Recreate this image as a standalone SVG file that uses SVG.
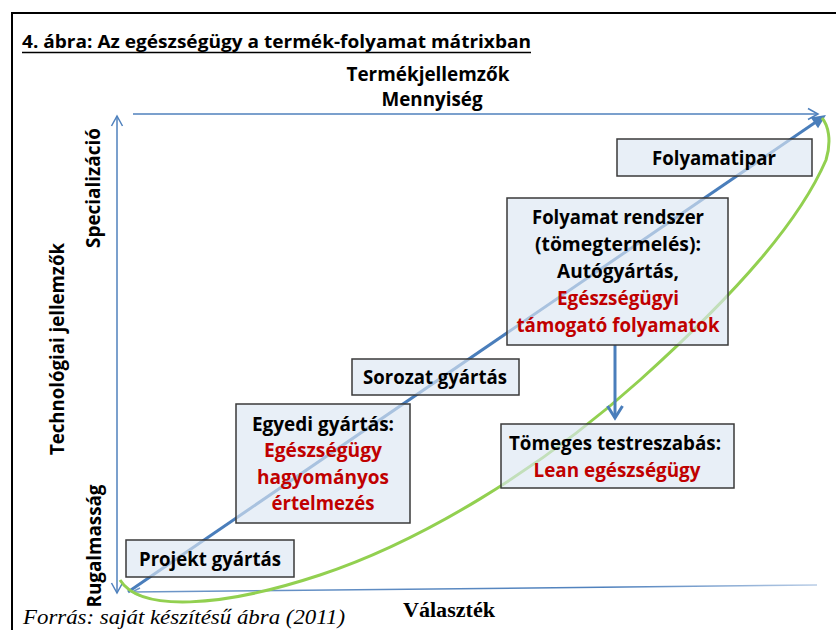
<svg xmlns="http://www.w3.org/2000/svg" width="836" height="630" viewBox="0 0 836 630">
  <style>
    .sans { font-family: "Open Sans", "Noto Sans", "Liberation Sans", sans-serif; font-weight: bold; }
    .lbl { font-size: 19px; fill: #000; text-anchor: middle; }
    .red { fill: #c00000; }
    .box { fill: #dce6f2; fill-opacity: 0.65; stroke: #3a3a3a; stroke-width: 1.5; }
    .axis { fill: none; stroke: #4f81bd; stroke-width: 1.5; }
  </style>
  <defs>
    <marker id="openHead" markerUnits="userSpaceOnUse" viewBox="-12 -7 14 14" refX="0" refY="0" markerWidth="14" markerHeight="14" orient="auto-start-reverse">
      <path d="M-10,-5.5 L0,0 L-10,5.5" fill="none" stroke="#4f81bd" stroke-width="1.5"/>
    </marker>
    <marker id="solidHead" markerUnits="userSpaceOnUse" viewBox="-10 -8 18 16" refX="0" refY="0" markerWidth="18" markerHeight="16" orient="auto">
      <path d="M-8,-6.5 L6,0 L-8,6.5 Z" fill="#4a7ebb"/>
    </marker>
    <marker id="downHead" markerUnits="userSpaceOnUse" viewBox="-15 -10 18 20" refX="0" refY="0" markerWidth="18" markerHeight="20" orient="auto">
      <path d="M-12,-7.5 L0,0 L-12,7.5" fill="none" stroke="#4a7ebb" stroke-width="3"/>
    </marker>
    <linearGradient id="baseGrad" x1="132" y1="0" x2="817" y2="0" gradientUnits="userSpaceOnUse">
      <stop offset="0" stop-color="#6f97c8"/>
      <stop offset="0.7" stop-color="#4f81bd"/>
      <stop offset="1" stop-color="#b9cde6"/>
    </linearGradient>
  </defs>

  <rect x="0" y="0" width="836" height="630" fill="#fff"/>

  <!-- page frame -->
  <path d="M836,13 L12,13 L12,630" fill="none" stroke="#000" stroke-width="2"/>

  <!-- heading -->
  <text class="sans" x="22" y="48" font-size="17" textLength="509" lengthAdjust="spacingAndGlyphs">4. ábra: Az egészségügy a termék-folyamat mátrixban</text>
  <line x1="22" y1="52.5" x2="531" y2="52.5" stroke="#000" stroke-width="1.5"/>

  <!-- axis titles -->
  <text class="sans lbl" x="428" y="81" textLength="163" lengthAdjust="spacingAndGlyphs">Termékjellemzők</text>
  <text class="sans lbl" x="432" y="106" textLength="101" lengthAdjust="spacingAndGlyphs">Mennyiség</text>
  <text class="sans lbl" transform="translate(100,188) rotate(-90)" textLength="120" lengthAdjust="spacingAndGlyphs">Specializáció</text>
  <text class="sans lbl" transform="translate(64,349) rotate(-90)" textLength="212" lengthAdjust="spacingAndGlyphs">Technológiai jellemzők</text>
  <text class="sans lbl" transform="translate(101,546) rotate(-90)" textLength="123" lengthAdjust="spacingAndGlyphs">Rugalmasság</text>
  <text x="403" y="617" font-family="'Liberation Serif', 'Times New Roman', serif" font-weight="bold" font-size="20" textLength="92" lengthAdjust="spacingAndGlyphs">Választék</text>
  <text x="23" y="624" font-family="'Liberation Serif', 'Times New Roman', serif" font-style="italic" font-size="20" textLength="322" lengthAdjust="spacingAndGlyphs">Forrás: saját készítésű ábra (2011)</text>

  <!-- connectors -->
  <g id="connectors">
    <line class="axis" x1="133" y1="114" x2="818" y2="114" marker-end="url(#openHead)"/>
    <line class="axis" x1="117" y1="116" x2="117" y2="593" marker-start="url(#openHead)" marker-end="url(#openHead)"/>
    <line x1="817" y1="585" x2="132" y2="592" fill="none" stroke="url(#baseGrad)" stroke-width="1.5"/>
    <path d="M140,588 L132,592 L140,596" fill="none" stroke="#6f97c8" stroke-width="1.5"/>
    <line x1="128" y1="592" x2="821" y2="118.4" stroke="#4a7ebb" stroke-width="3" marker-end="url(#solidHead)"/>
    <path d="M120,580 C140,612 220,608 320,575 C420,542 540,470 640,380 C740,290 800,220 826,160 C832,140 828,125 822,118" fill="none" stroke="#92d050" stroke-width="3"/>
    <line x1="615" y1="345" x2="615" y2="418" stroke="#4a7ebb" stroke-width="3" marker-end="url(#downHead)"/>
  </g>

  <!-- nodes -->
  <g id="projekt">
    <rect class="box" x="126" y="540" width="168" height="37"/>
    <text class="sans lbl" x="210" y="566" textLength="142" lengthAdjust="spacingAndGlyphs">Projekt gyártás</text>
  </g>

  <g id="egyedi">
    <rect class="box" x="236" y="404" width="174" height="119"/>
    <text class="sans lbl" x="323" y="431" textLength="142" lengthAdjust="spacingAndGlyphs">Egyedi gyártás:</text>
    <text class="sans lbl red" x="323" y="457" textLength="118" lengthAdjust="spacingAndGlyphs">Egészségügy</text>
    <text class="sans lbl red" x="323" y="484" textLength="132" lengthAdjust="spacingAndGlyphs">hagyományos</text>
    <text class="sans lbl red" x="323" y="510" textLength="103" lengthAdjust="spacingAndGlyphs">értelmezés</text>
  </g>

  <g id="sorozat">
    <rect class="box" x="352" y="359" width="167" height="36"/>
    <text class="sans lbl" x="435" y="384" textLength="144" lengthAdjust="spacingAndGlyphs">Sorozat gyártás</text>
  </g>

  <g id="folyamat-rendszer">
    <rect class="box" x="507" y="198" width="221" height="147"/>
    <text class="sans lbl" x="618" y="224" textLength="172" lengthAdjust="spacingAndGlyphs">Folyamat rendszer</text>
    <text class="sans lbl" x="618" y="251" textLength="166" lengthAdjust="spacingAndGlyphs">(tömegtermelés):</text>
    <text class="sans lbl" x="618" y="278" textLength="122" lengthAdjust="spacingAndGlyphs">Autógyártás,</text>
    <text class="sans lbl red" x="618" y="305" textLength="122" lengthAdjust="spacingAndGlyphs">Egészségügyi</text>
    <text class="sans lbl red" x="618" y="332" textLength="203" lengthAdjust="spacingAndGlyphs">támogató folyamatok</text>
  </g>

  <g id="folyamatipar">
    <rect class="box" x="617" y="139" width="195" height="37"/>
    <text class="sans lbl" x="714" y="165" textLength="124" lengthAdjust="spacingAndGlyphs">Folyamatipar</text>
  </g>

  <g id="tomeges">
    <rect class="box" x="501" y="424" width="233" height="64"/>
    <text class="sans lbl" x="615" y="450" textLength="212" lengthAdjust="spacingAndGlyphs">Tömeges testreszabás:</text>
    <text class="sans lbl red" x="617" y="477" textLength="167" lengthAdjust="spacingAndGlyphs">Lean egészségügy</text>
  </g>
</svg>
